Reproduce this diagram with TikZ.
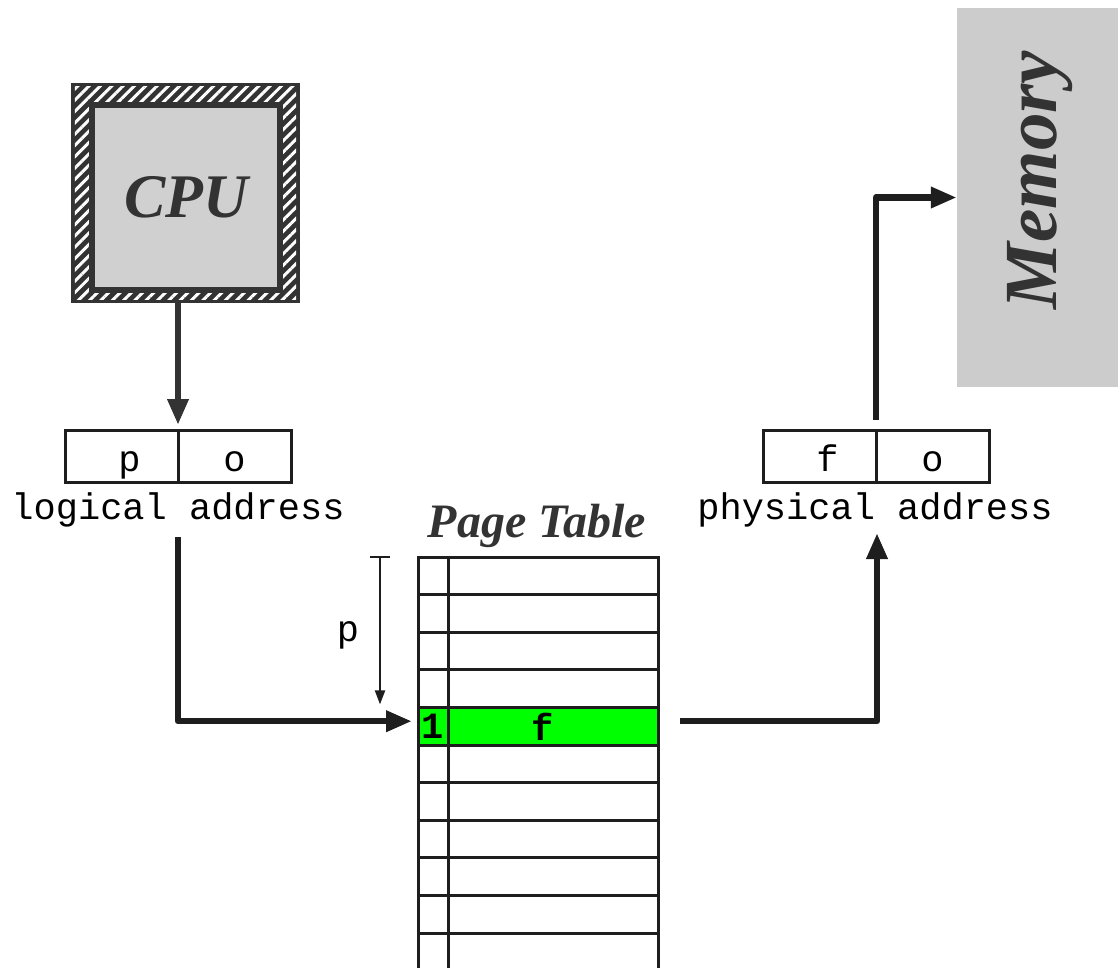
\documentclass[tikz,border=0pt]{standalone}
\usepackage{fontspec}
\setmainfont{Liberation Serif}
\newfontfamily\addrfont{Liberation Mono}
\usetikzlibrary{arrows.meta, patterns.meta, positioning}

\definecolor{cpudark}{HTML}{333333}
\definecolor{cpugray}{HTML}{D0D0D0}
\definecolor{memgray}{HTML}{CCCCCC}
\definecolor{linedark}{HTML}{1E1E1E}

\tikzset{
  mono/.style={inner sep=0pt, font=\fontsize{37}{40}\addrfont},
  addr/.style={mono, draw=linedark, line width=3pt, outer sep=0pt,
    text height=30pt, text depth=0pt,
    minimum width=113pt, minimum height=52pt},
  title/.style={text=cpudark, inner sep=0pt, font=\bfseries\itshape},
  ptrow/.style={draw=linedark, line width=3pt, outer sep=0pt, inner sep=0pt,
    minimum width=240pt, minimum height=37.6pt},
  ptline/.style={draw=linedark, line width=3pt},
  bit/.style={inner sep=0pt, font=\fontsize{37}{40}\addrfont\bfseries},
  bus/.style={draw=linedark, line width=6.5pt, line join=round,
    -{Triangle[length=26pt,width=20pt]}},
  pline/.style={draw=linedark, line width=2pt},
  cpuframe/.style={fill=cpudark, inner sep=0pt, minimum width=229pt, minimum height=220pt},
  cpu/.style={title, fill=cpugray, draw=cpudark, line width=6pt,
    minimum width=188pt, minimum height=185pt, font=\fontsize{62}{64}\selectfont\bfseries\itshape},
  mem/.style={fill=memgray, inner sep=0pt, minimum width=161pt, minimum height=379pt}
}

\begin{document}
\begin{tikzpicture}[x=1pt, y=-1pt]
\useasboundingbox (0,0) rectangle (1118,967);

% Memory
\node [mem] (mem) at (1037.5,197.5) {};
\node [title, rotate=90, font=\fontsize{75}{78}\selectfont\bfseries\itshape] (memtext) at (1040,180) {Memory};

% CPU with hatched frame
\node [cpuframe] (frame) at (185.5,193) {};
\fill [pattern={Lines[angle=45,distance=8pt,line width=3pt]}, pattern color=white]
  ([shift={(4,4)}]frame.north west) rectangle ([shift={(-4,-4)}]frame.south east);
\node [cpu] (cpu) at (186,197.5) {CPU};

% logical address
\node [addr, text width=38pt, align=right] (lp) at (121.5,456) {p};
\node [addr, right=0pt of lp] (lo) {o};
\node [mono] (ltext) at (178,510) {logical address};
\draw [bus, draw=cpudark] (frame.south -| lp.east) -- ([yshift=5pt]lp.north east);

% page table
\foreach \i in {0,...,3,5,6,...,10}
  \node [ptrow] (row\i) at (538,{575.8+37.6*\i}) {};
\node [ptrow, fill=green] (row4) at (538,{575.8+37.6*4}) {};
\draw [ptline] ([xshift=30pt]row0.north west) -- ([xshift=30pt]row10.south west);
\node [bit] (valid) at ([xshift=15pt]row4.west) {1};
\node [bit] (fno) at (543,727) {f};
\node [title, font=\fontsize{48}{50}\selectfont\bfseries\itshape] (pttext) at (537,526) {Page Table};

% index p
\draw [pline] ([xshift=-48pt]row0.north west) -- ([xshift=-28pt]row0.north west);
\draw [pline, shorten >=3pt, -{Triangle[length=14pt,width=10pt]}]
  ([xshift=-38pt]row0.north west) -- ([xshift=-38pt]row4.north west);
\node [mono] (pidx) at (348,635) {p};

% lookup
\coordinate (lout) at (178,537);
\draw [bus, shorten >=6pt] (lout) |- ([yshift=5pt]row4.west);

% physical address
\node [addr, text width=38pt, align=right] (pf) at (819.5,456) {f};
\node [addr, right=0pt of pf] (po) {o};
\node [mono] (ptext) at (875,510) {physical address};
\coordinate (pin) at (877,533);
\draw [bus] ([xshift=22pt,yshift=5pt]row4.east) -| (pin);

% to memory
\draw [bus] ([yshift=10pt]pf.north east) |- (mem.west);
\end{tikzpicture}
\end{document}
